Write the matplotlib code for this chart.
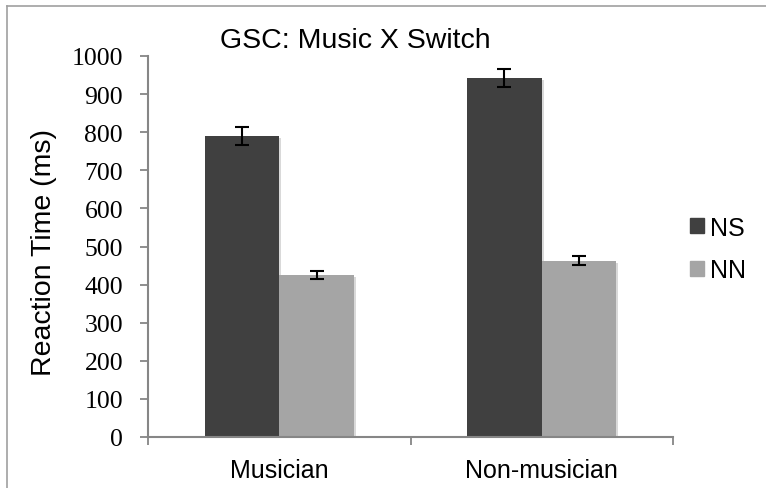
import matplotlib

matplotlib.use("Agg")
import matplotlib.pyplot as plt
import matplotlib.patheffects as pe
import numpy as np
from matplotlib.lines import Line2D

groups = ["Musician", "Non-musician"]
series = ["NS", "NN"]
ns_vals = [790, 942]
ns_err = [24, 23]
nn_vals = [425, 463]
nn_err = [10, 11]
colours = ["#404040", "#a5a5a5"]
yticks = list(range(0, 1001, 100))

sans = "Liberation Sans"
serif = "Liberation Serif"
axis_col = "#868686"

fig = plt.figure(figsize=(7.66, 4.89), dpi=100)
ax = fig.add_axes([148 / 766, 1 - 438 / 489, (673 - 148) / 766, (438 - 57) / 489])

x = np.arange(len(groups))
width = 0.284
shadow = [pe.SimplePatchShadow(offset=(1.5, -1.5), shadow_rgbFace="black", alpha=0.15), pe.Normal()]
for k, (vals, errs) in enumerate([(ns_vals, ns_err), (nn_vals, nn_err)]):
    pos = x + (k - 0.5) * width
    bars = ax.bar(pos, vals, width=width, color=colours[k], zorder=2)
    for b in bars:
        b.set_path_effects(shadow)
    ax.errorbar(pos, vals, yerr=errs, fmt="none", ecolor="black",
                elinewidth=1.5, capsize=5, capthick=1.5, zorder=3)

ax.set_xlim(-0.5, len(groups) - 0.5)
ax.set_ylim(0, 1000)
ax.set_yticks(yticks)
ax.set_yticklabels([str(t) for t in yticks], fontfamily=serif, fontsize=18.5)
ax.set_xticks(x)
ax.set_xticklabels(groups, fontfamily=sans, fontsize=18)
ax.set_xticks(np.arange(len(groups) + 1) - 0.5, minor=True)
ax.tick_params(axis="x", which="major", length=0, pad=15)
ax.tick_params(axis="x", which="minor", length=6, width=1.3, color=axis_col, direction="out")
ax.tick_params(axis="y", length=6, width=1.3, color=axis_col, direction="out", pad=12)

for side in ["top", "right"]:
    ax.spines[side].set_visible(False)
for side in ["left", "bottom"]:
    ax.spines[side].set_color(axis_col)
    ax.spines[side].set_linewidth(1.5)

# y label placed in figure coords, as in the original layout
fig.text(44 / 766, 1 - 252 / 489, "Reaction Time (ms)", fontfamily=sans, fontsize=20.5,
         rotation=90, ha="center", va="center")

fig.text(220 / 766, 1 - 41 / 489, "GSC: Music X Switch", fontfamily=sans,
         fontsize=20.5, ha="left", va="center")

handles = [plt.Rectangle((0, 0), 1, 1, color=c) for c in colours]
fig.legend(handles, series, loc="center left", bbox_to_anchor=(690 / 766, 1 - 250 / 489),
           frameon=False, prop={"family": sans, "size": 18}, borderpad=0, borderaxespad=0,
           handlelength=0.55, handleheight=0.55, handletextpad=0.25, labelspacing=0.75)

# frame of the chart area
fig.add_artist(Line2D([7 / 766, 7 / 766], [0, 1 - 7 / 489], transform=fig.transFigure,
                      color="#a0a0a0", linewidth=1.2))
fig.add_artist(Line2D([7 / 766, 1], [1 - 7 / 489, 1 - 7 / 489], transform=fig.transFigure,
                      color="#a0a0a0", linewidth=1.2))

fig.savefig("out.png", dpi=100)
